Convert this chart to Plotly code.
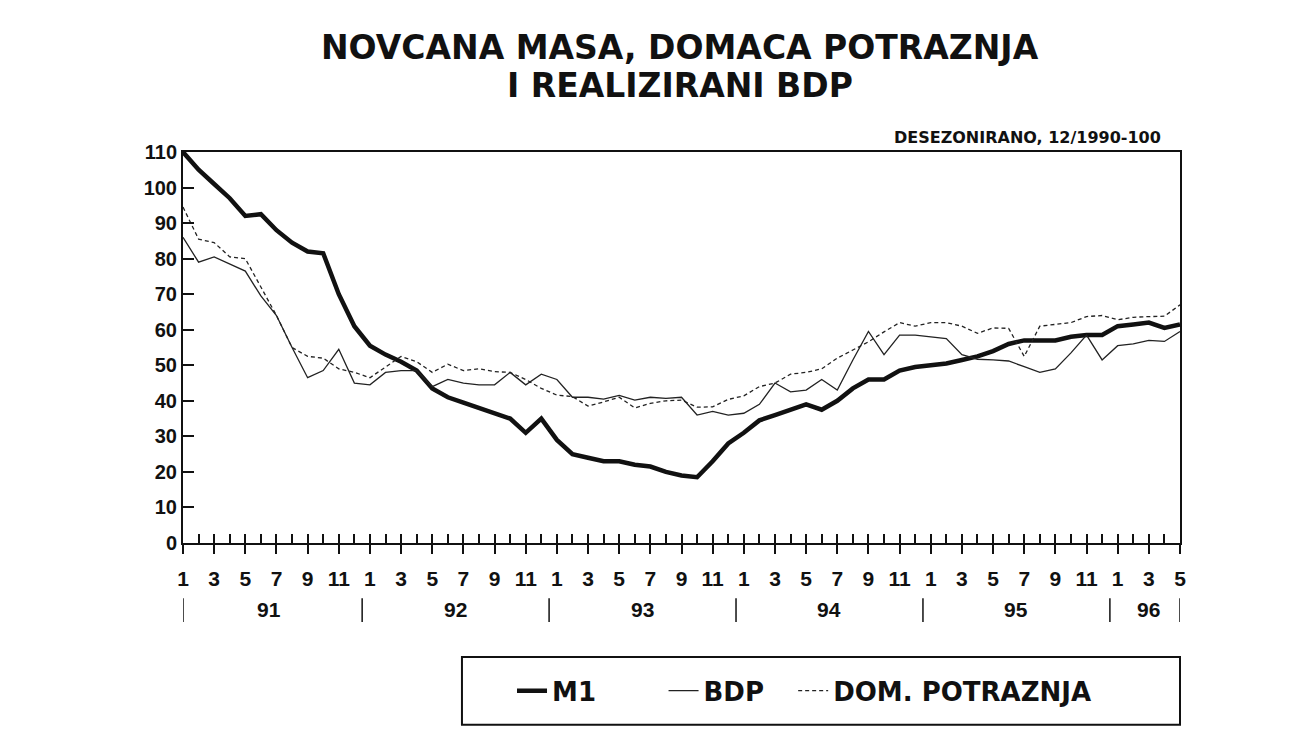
import plotly.graph_objects as go

# ---- data (monthly, 1/1991 .. 5/1996), deseasonalised, 12/1990 = 100 ----
years = [91, 92, 93, 94, 95, 96]
start_year = 91
n_months = 65
month_num = [(i % 12) + 1 for i in range(n_months)]
year_of = [start_year + i // 12 for i in range(n_months)]

m1 = [110, 105, 101, 97, 92, 92.5, 88, 84.5, 82, 81.5, 70, 61,
      55.5, 53, 51, 48.5, 43.5, 41, 39.5, 38, 36.5, 35, 31, 35,
      29, 25, 24, 23, 23, 22, 21.5, 20, 19, 18.5, 23, 28,
      31, 34.5, 36, 37.5, 39, 37.5, 40, 43.5, 46, 46, 48.5, 49.5,
      50, 50.5, 51.5, 52.5, 54, 56, 57, 57, 57, 58, 58.5, 58.5,
      61, 61.5, 62, 60.5, 61.5]

bdp = [86, 79, 80.5, 78.5, 76.5, 69.5, 64, 55, 46.5, 48.5, 54.5, 45,
       44.5, 48, 48.5, 48.5, 44, 46, 45, 44.5, 44.5, 48, 44.5, 47.5,
       46, 41, 41, 40.5, 41.5, 40.2, 41, 40.7, 41, 36, 37, 36,
       36.5, 39, 45, 42.5, 43, 46, 43, 51.5, 59.5, 53, 58.5, 58.5,
       58, 57.5, 53, 51.7, 51.5, 51.2, 49.6, 48, 49, 53.5, 58.5, 51.5,
       55.5, 56, 57, 56.7, 59.5]

dom = [94.5, 85.5, 84.5, 80.5, 80, 72, 64, 55, 52.5, 52, 49, 48,
       46.5, 49.5, 52.5, 51, 48, 50.3, 48.5, 49, 48.2, 48, 46, 43.5,
       41.6, 41.2, 38.5, 39.7, 41, 38, 39.3, 40, 40.2, 38.2, 38.3, 40.4,
       41.4, 44, 45, 47.5, 48, 49, 52, 54.3, 56.6, 59.4, 62, 61,
       62, 62, 61, 59, 60.5, 60.4, 52.5, 61, 61.5, 62, 63.7, 64,
       62.8, 63.5, 63.7, 63.8, 67]

series_names = ["M1", "BDP", "DOM. POTRAZNJA"]
title_lines = ["NOVCANA MASA, DOMACA POTRAZNJA", "I REALIZIRANI BDP"]
subtitle = "DESEZONIRANO, 12/1990-100"
y_ticks = list(range(0, 111, 10))

x = list(range(n_months))
odd_idx = [i for i in x if month_num[i] % 2 == 1]
odd_txt = [str(month_num[i]) for i in odd_idx]

FONT = "Liberation Sans, Arial, sans-serif"
WIDE = "DejaVu Sans"
INK = "#111111"

fig = go.Figure()
fig.add_trace(go.Scatter(x=x, y=m1, mode="lines", name=series_names[0],
                         line=dict(color=INK, width=4.5), legend="legend"))
fig.add_trace(go.Scatter(x=x, y=bdp, mode="lines", name=series_names[1],
                         line=dict(color="#222222", width=1.3), legend="legend2"))
fig.add_trace(go.Scatter(x=x, y=dom, mode="lines", name=series_names[2],
                         line=dict(color="#222222", width=1.3, dash="4px,3px"),
                         legend="legend3"))
# invisible trace to activate the secondary (tick-only) x axis
fig.add_trace(go.Scatter(x=[x[0], x[-1]], y=[None, None], xaxis="x2",
                         showlegend=False, hoverinfo="skip"))

fig.update_layout(
    width=1291, height=735,
    paper_bgcolor="white", plot_bgcolor="white",
    margin=dict(l=175, r=119, t=144, b=200),
    font=dict(family=FONT, color=INK, size=19),
    xaxis=dict(range=[0, n_months - 1], tickvals=odd_idx, ticktext=odd_txt,
               ticks="outside", ticklen=9, tickwidth=1.5, tickcolor=INK,
               showline=True, linewidth=2, linecolor=INK, mirror=True,
               showgrid=False, zeroline=False, ticklabelstandoff=7,
               tickfont=dict(family=FONT, size=21, weight="bold")),
    xaxis2=dict(range=[0, n_months - 1], overlaying="x", anchor="y",
                side="bottom", tickvals=x, ticks="inside", ticklen=9,
                tickwidth=1.5, tickcolor=INK, showticklabels=False,
                showline=False, showgrid=False, zeroline=False),
    yaxis=dict(range=[0, 110], tickvals=y_ticks, ticks="inside", ticklen=11,
               tickwidth=1.5, tickcolor=INK, showline=True, linewidth=2,
               linecolor=INK, mirror=True, showgrid=False, zeroline=False,
               tickfont=dict(family=FONT, size=20, weight="bold")),
    showlegend=True,
)

leg_common = dict(orientation="h", yanchor="middle", y=-0.378, xanchor="left",
                  bgcolor="rgba(0,0,0,0)",
                  font=dict(family=WIDE, size=26, weight="bold", color=INK))
fig.update_layout(legend=dict(x=0.330, **leg_common),
                  legend2=dict(x=0.482, **leg_common),
                  legend3=dict(x=0.612, **leg_common))

# legend frame
fig.add_shape(type="rect", xref="paper", yref="paper", x0=0.2798, x1=1.0,
              y0=-0.465, y1=-0.2916, line=dict(color=INK, width=2))

# year separators and year labels
boundaries = [0] + [i - 0.5 for i in x if month_num[i] == 1 and i > 0] + [x[-1]]
for b in boundaries:
    fig.add_shape(type="line", xref="x", yref="paper", x0=b, x1=b,
                  y0=-0.141, y1=-0.202, line=dict(color=INK, width=1.5))
for yr in years:
    idx = [i for i in x if year_of[i] == yr]
    fig.add_annotation(x=(idx[0] + idx[-1]) / 2, xref="x", y=-0.171, yref="paper",
                       yanchor="middle", text=str(yr), showarrow=False,
                       font=dict(family=FONT, size=21, weight="bold"))

# titles
fig.add_annotation(x=0.4985, xref="paper", y=1.268, yref="paper", yanchor="middle",
                   text=title_lines[0], showarrow=False,
                   font=dict(family=WIDE, size=33, weight="bold"))
fig.add_annotation(x=0.4985, xref="paper", y=1.170, yref="paper", yanchor="middle",
                   text=title_lines[1], showarrow=False,
                   font=dict(family=WIDE, size=33, weight="bold"))
fig.add_annotation(x=0.983, xref="paper", y=1.036, yref="paper", yanchor="middle",
                   xanchor="right", text=subtitle, showarrow=False,
                   font=dict(family=WIDE, size=16, weight="bold"))

fig.write_html("out.html")
